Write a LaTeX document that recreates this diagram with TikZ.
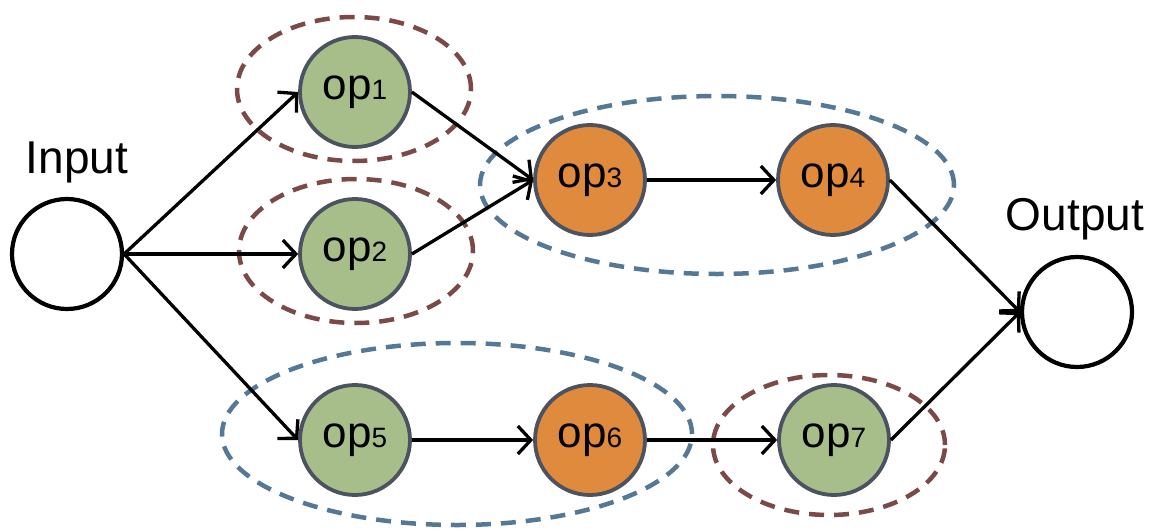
\documentclass[tikz,border=0pt]{standalone}
\usepackage{fontspec}
\setmainfont{Liberation Sans}
\usetikzlibrary{arrows.meta}
\definecolor{opgreen}{HTML}{A8BE8A}
\definecolor{oporange}{HTML}{E08A3E}
\definecolor{opedge}{HTML}{4B5260}
\definecolor{grpbrown}{HTML}{7B4A48}
\definecolor{grpblue}{HTML}{557896}
\newcommand{\opname}[1]{op{\fontsize{28}{28}\selectfont #1}}
\begin{document}
\begin{tikzpicture}[x=1pt,y=-1pt,
  opnode/.style={circle,draw=opedge,line width=3.8pt,minimum size=110pt,inner sep=0pt,
    font=\fontsize{44}{44}\selectfont},
  greenop/.style={opnode,fill=opgreen},
  orangeop/.style={opnode,fill=oporange},
  io/.style={circle,draw=black,line width=4.2pt,minimum size=110pt,inner sep=0pt},
  iolabel/.style={anchor=base,inner sep=0pt,font=\fontsize{46}{46}\selectfont},
  flow/.style={line width=3.3pt,-{Straight Barb[length=13pt,width=28pt,line width=3.3pt]}},
  grp/.style={line width=4.5pt,dash pattern=on 15pt off 10pt},
  brownset/.style={grp,draw=grpbrown},
  blueset/.style={grp,draw=grpblue}]
\useasboundingbox (0,0) rectangle (1158,532);

% dashed groupings
\draw[brownset] (354,89) ellipse [x radius=117pt, y radius=72pt];
\draw[brownset] (356,251) ellipse [x radius=117pt, y radius=72pt];
\draw[blueset] (717,185) ellipse [x radius=237pt, y radius=89pt];
\draw[blueset] (457,434) ellipse [x radius=235pt, y radius=91pt];
\draw[brownset] (829,445) ellipse [x radius=116pt, y radius=70pt];

% input / output
\node[io] (in) at (67,254) {};
\node[iolabel] (inlbl) at (77,173) {Input};
\node[io] (out) at (1077,312) {};
\node[iolabel] (outlbl) at (1075,230) {Output};

% operators
\node[greenop] (op1) at (355,92) {\opname{1}};
\node[greenop] (op2) at (355,254) {\opname{2}};
\node[orangeop] (op3) at (590,180) {\opname{3}};
\node[orangeop] (op4) at (833,180) {\opname{4}};
\node[greenop] (op5) at (355,440) {\opname{5}};
\node[orangeop] (op6) at (590,440) {\opname{6}};
\node[greenop] (op7) at (834,440) {\opname{7}};

% data flow
\draw[flow] (in.east) -- (op1.west);
\draw[flow] (in.east) -- (op2.west);
\draw[flow] (in.east) -- (op5.west);
\draw[flow] (op1.east) -- (op3.west);
\draw[flow] (op2.east) -- (op3.west);
\draw[flow] (op3) -- (op4);
\draw[flow] (op4.east) -- (out.west);
\draw[flow] (op5) -- (op6);
\draw[flow] (op6) -- (op7);
\draw[flow] (op7.east) -- (out.west);
\end{tikzpicture}
\end{document}
